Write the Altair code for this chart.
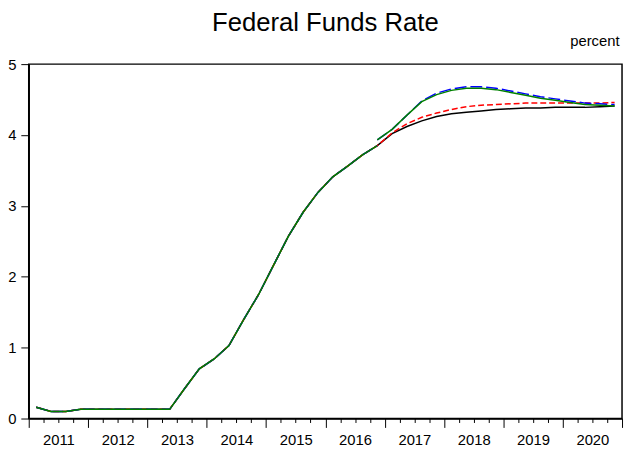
import altair as alt
import pandas as pd

years = list(range(2011, 2021))
quarters = [f"{y}Q{q}" for y in years for q in (1, 2, 3, 4)]

# 2011Q1 - 2016Q4 (common history)
history = [0.16, 0.10, 0.10, 0.13, 0.13, 0.13, 0.13, 0.13, 0.13, 0.13,
           0.42, 0.70, 0.84, 1.03, 1.40, 1.75, 2.16, 2.57, 2.91, 3.19,
           3.41, 3.56, 3.72, 3.85]
# 2017Q1 - 2020Q4
black_fc = [4.02, 4.12, 4.20, 4.26, 4.30, 4.32, 4.34, 4.36,
            4.37, 4.38, 4.38, 4.39, 4.39, 4.39, 4.40, 4.41]
red_fc = [4.03, 4.16, 4.25, 4.31, 4.36, 4.40, 4.42, 4.43,
          4.44, 4.45, 4.45, 4.45, 4.45, 4.45, 4.45, 4.46]
# 2016Q4 - 2020Q4
green_fc = [3.93, 4.08, 4.28, 4.47, 4.57, 4.63, 4.66, 4.66, 4.64,
            4.60, 4.56, 4.52, 4.49, 4.46, 4.43, 4.42, 4.41]
blue_fc = [3.93, 4.08, 4.28, 4.48, 4.59, 4.65, 4.68, 4.68, 4.66,
           4.62, 4.58, 4.54, 4.51, 4.48, 4.45, 4.44, 4.43]


def qpos(label):
    y, q = label.split("Q")
    return int(y) + (int(q) - 0.5) / 4


rows = []


def add(series, seg, labels, values):
    for lab, v in zip(labels, values):
        rows.append({"series": series, "seg": seg, "t": qpos(lab), "v": v})


add("black", "a", quarters, history + black_fc)
add("red", "a", quarters, history + red_fc)
add("blue", "h", quarters[:24], history)
add("blue", "f", quarters[23:], blue_fc)
add("green", "h", quarters[:24], history)
add("green", "f", quarters[23:], green_fc)
df = pd.DataFrame(rows)

tick_vals = [y + k / 4 for y in years for k in range(4)] + [years[-1] + 1]
FONT = "Liberation Sans"

x_enc = alt.X(
    "t:Q",
    scale=alt.Scale(domain=[2011, 2021], nice=False, zero=False),
    axis=alt.Axis(
        values=tick_vals,
        labelExpr="datum.value % 1 == 0.5 ? '' + floor(datum.value) : ''",
        tickSize={"condition": {"test": "datum.value % 1 == 0", "value": 9}, "value": 4},
        labelPadding=10,
        labelOverlap=False,
        labelFlush=False,
        grid=False,
        domainColor="black",
        domainWidth=1.5,
        tickColor="black",
        tickWidth=1,
        labelFontSize=15,
        labelFont=FONT,
        labelColor="black",
        title=None,
    ),
)
y_enc = alt.Y(
    "v:Q",
    scale=alt.Scale(domain=[0, 5], nice=False, zero=False),
    axis=alt.Axis(
        values=[0, 1, 2, 3, 4, 5],
        format="d",
        tickSize=8,
        labelPadding=5,
        grid=False,
        domainColor="black",
        domainWidth=1.5,
        tickColor="black",
        tickWidth=1,
        labelFontSize=15,
        labelFont=FONT,
        labelColor="black",
        title="percent",
        titleAngle=0,
        titleAlign="right",
        titleBaseline="alphabetic",
        titleX=598,
        titleY=-19,
        titleFont=FONT,
        titleFontSize=15,
        titleFontWeight="normal",
        titleColor="black",
    ),
)

styles = {
    "black": dict(color="black", strokeWidth=1.5),
    "red": dict(color="#FF0000", strokeWidth=1.5, strokeDash=[6, 3]),
    "blue": dict(color="#0000FF", strokeWidth=1.5, strokeDash=[12, 4]),
    "green": dict(color="#008000", strokeWidth=1.5),
}

layers = []
for name in ["black", "red", "blue", "green"]:
    layers.append(
        alt.Chart(df)
        .transform_filter(alt.datum.series == name)
        .mark_line(**styles[name])
        .encode(x=x_enc, y=y_enc, detail="seg:N", order="t:Q")
    )

chart = (
    alt.layer(*layers)
    .properties(
        width=601,
        height=359,
        padding={"left": 21, "top": 54, "right": 2, "bottom": 27},
        autosize="none",
        title=alt.TitleParams(
            "Federal Funds Rate",
            fontSize=26,
            font=FONT,
            fontWeight="normal",
            color="black",
            anchor="middle",
            offset=-2,
        ),
        background="white",
    )
    .configure_view(stroke="black", strokeWidth=1.5)
)

chart.save("out.html", embed_options={"renderer": "svg", "actions": False})
